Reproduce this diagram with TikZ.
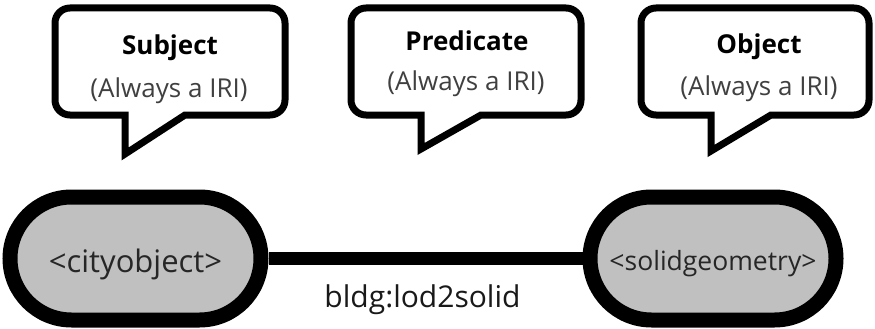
\documentclass[tikz,border=0pt]{standalone}
\usepackage{fontspec}
\setmainfont{Open Sans}
\usetikzlibrary{shapes.misc}
\definecolor{pillgray}{RGB}{192,192,192}
\definecolor{subgray}{RGB}{64,64,64}
\definecolor{txtdark}{RGB}{38,38,38}
\newcommand{\speechbubble}[3]{%
  \draw[bubbleline] ({#1+70},115) -- ({#1+15},115)
    .. controls ({#1+6.7},115) and (#1,108.3) .. (#1,100) -- (#1,23)
    .. controls (#1,14.7) and ({#1+6.7},8) .. ({#1+15},8) -- ({#2-15},8)
    .. controls ({#2-6.7},8) and (#2,14.7) .. (#2,23) -- (#2,100)
    .. controls (#2,108.3) and ({#2-6.7},115) .. ({#2-15},115)
    -- ({#1+130},115) -- ({#1+70},#3) -- cycle;}
\begin{document}
\begin{tikzpicture}[x=1pt,y=-1pt,
  bubbleline/.style={draw=black, fill=white, line width=7pt, line join=miter},
  pill/.style={rounded rectangle, draw=black, fill=pillgray, line width=15pt,
    minimum width=251pt, minimum height=123pt, inner sep=0pt, text=txtdark,
    text depth=0pt},
  titletext/.style={font=\bfseries\fontsize{26}{30}\selectfont, text=black, anchor=base},
  subtext/.style={font=\fontsize{26}{30}\selectfont, text=subgray, anchor=base},
  conn/.style={draw=black, line width=13pt},
  edgelabel/.style={font=\fontsize{30}{34}\selectfont, text=black!90, anchor=base}]
\useasboundingbox (0,0) rectangle (875,329);
% speech bubbles
\speechbubble{55}{285}{154}
\speechbubble{351}{581}{149}
\speechbubble{641}{869}{151}
\node[titletext] (subjtitle) at (170,55) {Subject};
\node[subtext] (subjsub) at (169,97) {(Always a IRI)};
\node[titletext] (predtitle) at (467,51) {Predicate};
\node[subtext] (predsub) at (466,90) {(Always a IRI)};
\node[titletext] (objtitle) at (759,54) {Object};
\node[subtext] (objsub) at (759,95) {(Always a IRI)};
% triple
\node[pill, text height=27pt, font=\fontsize{31}{36}\selectfont] (subj) at (135.5,258.5) {<cityobject>};
\node[pill, minimum width=246pt, text height=23pt, font=\fontsize{26.5}{31}\selectfont] (obj) at (713,258.5) {<solidgeometry>};
\draw[conn] (subj.east) -- (obj.west);
\node[edgelabel] (pred) at (422.5,307) {bldg:lod2solid};
\end{tikzpicture}
\end{document}
